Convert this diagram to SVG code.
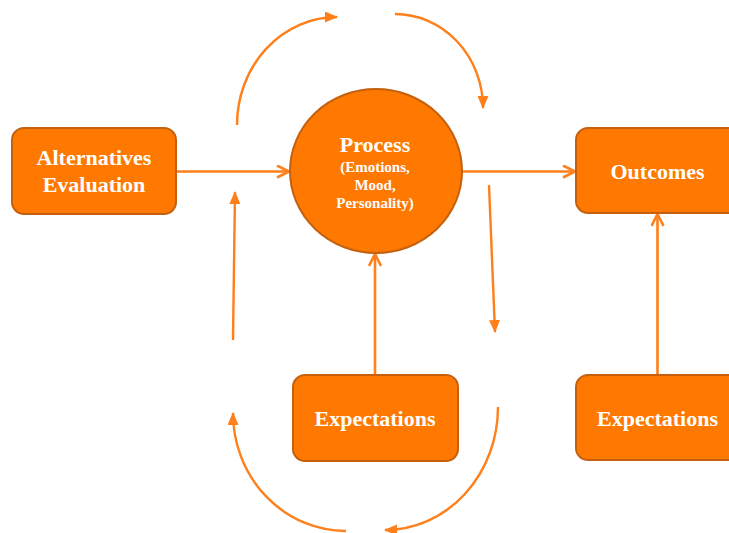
<svg xmlns="http://www.w3.org/2000/svg" width="729" height="533" viewBox="0 0 729 533">
  <defs>
    <style>
      .box { fill: #FF7900; stroke: #C4600E; stroke-width: 2; }
      .label { fill: #FFFFFF; font-family: "Liberation Serif", "Times New Roman", serif; font-weight: bold; text-anchor: middle; }
      .big { font-size: 22px; }
      .small { font-size: 15px; }
      .link { fill: none; stroke: #FF7F1A; stroke-width: 2.6; }
      .loop { fill: none; stroke: #FF7F1A; stroke-width: 2.4; marker-end: url(#tri); }
      .main { marker-end: url(#chev); }
    </style>
    <marker id="tri" viewBox="0 0 13 11" refX="12" refY="5.5" markerWidth="13" markerHeight="11" markerUnits="userSpaceOnUse" orient="auto">
      <path d="M0,0 L13,5.5 L0,11 Z" fill="#FF7F1A"/>
    </marker>
    <marker id="chev" viewBox="0 0 14 14" refX="13" refY="7" markerWidth="14" markerHeight="14" markerUnits="userSpaceOnUse" orient="auto">
      <path d="M1,1 L13,7 L1,13" fill="none" stroke="#FF7F1A" stroke-width="2.6"/>
    </marker>
  </defs>

  <!-- connectors -->
  <g id="connectors">
    <line class="link main" x1="176" y1="171.5" x2="289" y2="171.5"/>
    <line class="link main" x1="462" y1="171.5" x2="575" y2="171.5"/>
    <line class="link main" x1="375" y1="375" x2="375" y2="254"/>
    <line class="link main" x1="657.5" y1="375" x2="657.5" y2="214"/>
    <!-- feedback loop -->
    <path class="loop" d="M237,125 A100,108 0 0 1 337,17"/>
    <path class="loop" d="M395,14 A88,94 0 0 1 483,108"/>
    <line class="loop" x1="489" y1="185" x2="495" y2="332"/>
    <path class="loop" d="M498,407 A113,123 0 0 1 385,530"/>
    <path class="loop" d="M346,531 A113,118 0 0 1 233,413"/>
    <line class="loop" x1="233" y1="340" x2="235" y2="192"/>
  </g>

  <g id="alternatives">
    <rect class="box" x="12" y="128" width="164" height="86" rx="12"/>
    <text class="label big" x="94" y="165">Alternatives</text>
    <text class="label big" x="94" y="192">Evaluation</text>
  </g>

  <g id="process">
    <ellipse class="box" cx="376" cy="171" rx="86" ry="82"/>
    <text class="label big" x="375" y="152">Process</text>
    <text class="label small" x="375" y="172">(Emotions,</text>
    <text class="label small" x="375" y="190">Mood,</text>
    <text class="label small" x="375" y="208">Personality)</text>
  </g>

  <g id="outcomes">
    <rect class="box" x="576" y="128" width="164" height="85" rx="12"/>
    <text class="label big" x="657.5" y="179">Outcomes</text>
  </g>

  <g id="expectations-center">
    <rect class="box" x="293" y="375" width="165" height="86" rx="12"/>
    <text class="label big" x="375" y="426">Expectations</text>
  </g>

  <g id="expectations-right">
    <rect class="box" x="576" y="375" width="164" height="85" rx="12"/>
    <text class="label big" x="657.5" y="426">Expectations</text>
  </g>
</svg>
